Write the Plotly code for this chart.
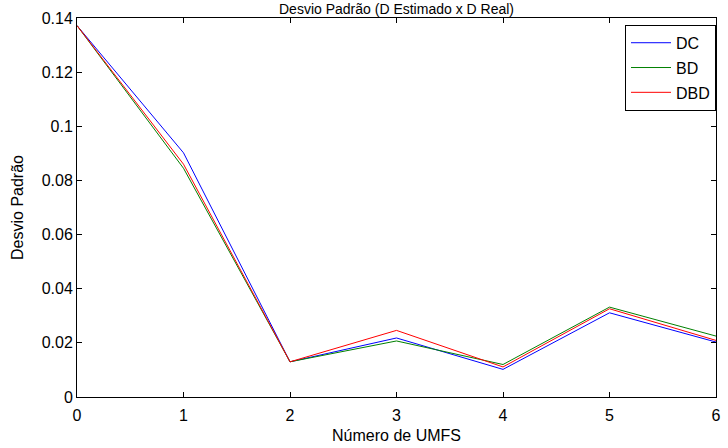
import plotly.graph_objects as go

x_umfs = [0, 1, 2, 3, 4, 5, 6]
dc = [0.1372, 0.0902, 0.0130, 0.0218, 0.0102, 0.0311, 0.0203]
bd = [0.1372, 0.0845, 0.0130, 0.0207, 0.0120, 0.0332, 0.0225]
dbd = [0.1372, 0.0860, 0.0130, 0.0246, 0.0111, 0.0326, 0.0209]
x_ticks = [0, 1, 2, 3, 4, 5, 6]
y_ticks = [0, 0.02, 0.04, 0.06, 0.08, 0.1, 0.12, 0.14]
y_tick_labels = ["0", "0.02", "0.04", "0.06", "0.08", "0.1", "0.12", "0.14"]

FONT = "Liberation Sans, Arial, sans-serif"
FS = 16

fig = go.Figure()
fig.add_trace(go.Scatter(x=x_umfs, y=dc, mode="lines", name="DC", legendgroup="a",
                         line=dict(color="#0000FF", width=1)))
fig.add_trace(go.Scatter(x=x_umfs, y=bd, mode="lines", name="BD", legendgroup="b",
                         line=dict(color="#008000", width=1)))
fig.add_trace(go.Scatter(x=x_umfs, y=dbd, mode="lines", name="DBD", legendgroup="c",
                         line=dict(color="#FF0000", width=1)))

axis_common = dict(showline=True, linecolor="black", linewidth=1, mirror="ticks",
                   ticks="inside", ticklen=5, tickcolor="black", showgrid=False,
                   zeroline=False, tickfont=dict(family=FONT, size=FS, color="black"))

fig.update_layout(
    width=728, height=448,
    margin=dict(l=77, r=7, t=18, b=50),
    paper_bgcolor="white", plot_bgcolor="white",
    font=dict(family=FONT, size=FS, color="black"),
    showlegend=True,
    legend=dict(x=1.0, y=0.982, xanchor="right", yanchor="top",
                bordercolor="black", borderwidth=1, bgcolor="white",
                font=dict(family=FONT, size=FS, color="black"),
                itemwidth=40, tracegroupgap=1),
    xaxis=dict(range=[0, 6], tickvals=x_ticks, ticktext=[str(v) for v in x_ticks],
               ticklabelstandoff=4,
               title=dict(text="Número de UMFS", standoff=6,
                          font=dict(family=FONT, size=FS)), **axis_common),
    yaxis=dict(range=[0, 0.14], tickvals=y_ticks, ticktext=y_tick_labels,
               title=dict(text="Desvio Padrão", standoff=14,
                          font=dict(family=FONT, size=FS)), **axis_common),
    annotations=[dict(text="Desvio Padrão (D Estimado x D Real)", xref="paper", yref="paper",
                      x=0.5, y=1, yshift=9, xanchor="center", yanchor="middle",
                      showarrow=False, font=dict(family=FONT, size=14, color="black"))],
)

fig.write_html("out.html")
